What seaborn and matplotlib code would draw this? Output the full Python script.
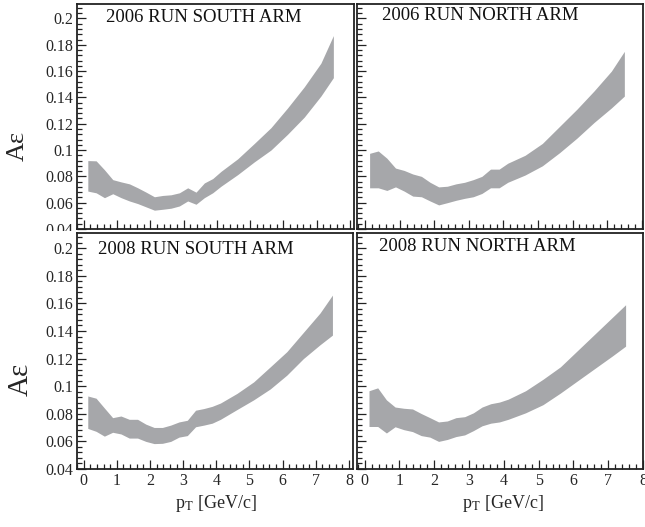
import matplotlib
matplotlib.use("Agg")
import matplotlib.pyplot as plt
import numpy as np
import seaborn as sns
from matplotlib.ticker import MultipleLocator, FixedLocator
from matplotlib.transforms import Bbox, TransformedBbox

# pT grid shared by all four acceptance*efficiency bands
pt = [0.125, 0.375, 0.625, 0.875, 1.125, 1.375, 1.625, 1.875, 2.125, 2.375,
      2.625, 2.875, 3.125, 3.375, 3.625, 3.875, 4.125, 4.625, 5.125, 5.625,
      6.125, 6.625, 7.125, 7.5]

# 2006 run, south arm
south06_hi = [0.0920, 0.0918, 0.0850, 0.0775, 0.0758, 0.0743, 0.0713, 0.0680, 0.0645, 0.0655,
              0.0660, 0.0675, 0.0713, 0.0680, 0.0750, 0.0783, 0.0838, 0.0933, 0.1050, 0.1170,
              0.1320, 0.1480, 0.1660, 0.1870]
south06_lo = [0.0688, 0.0675, 0.0638, 0.0668, 0.0638, 0.0613, 0.0593, 0.0568, 0.0543, 0.0550,
              0.0558, 0.0575, 0.0613, 0.0588, 0.0638, 0.0675, 0.0725, 0.0813, 0.0910, 0.1000,
              0.1120, 0.1250, 0.1410, 0.1550]

# 2006 run, north arm
north06_hi = [0.0975, 0.0993, 0.0938, 0.0863, 0.0845, 0.0818, 0.0800, 0.0755, 0.0720, 0.0725,
              0.0743, 0.0755, 0.0775, 0.0800, 0.0855, 0.0855, 0.0900, 0.0960, 0.1050, 0.1180,
              0.1310, 0.1450, 0.1600, 0.1750]
north06_lo = [0.0713, 0.0713, 0.0693, 0.0720, 0.0688, 0.0650, 0.0645, 0.0613, 0.0583, 0.0600,
              0.0618, 0.0633, 0.0645, 0.0670, 0.0713, 0.0713, 0.0755, 0.0810, 0.0880, 0.0980,
              0.1090, 0.1210, 0.1320, 0.1410]

# 2008 run, south arm
south08_hi = [0.0929, 0.0913, 0.0842, 0.0772, 0.0784, 0.0760, 0.0760, 0.0725, 0.0701, 0.0701,
              0.0718, 0.0741, 0.0753, 0.0826, 0.0838, 0.0854, 0.0878, 0.0948, 0.1031, 0.1140,
              0.1250, 0.1390, 0.1530, 0.1660]
south08_lo = [0.0694, 0.0673, 0.0638, 0.0666, 0.0654, 0.0624, 0.0624, 0.0600, 0.0584, 0.0586,
              0.0600, 0.0631, 0.0642, 0.0706, 0.0718, 0.0732, 0.0760, 0.0831, 0.0901, 0.0980,
              0.1080, 0.1200, 0.1300, 0.1370]

# 2008 run, north arm
north08_hi = [0.0967, 0.0988, 0.0901, 0.0849, 0.0840, 0.0835, 0.0802, 0.0772, 0.0741, 0.0748,
              0.0772, 0.0779, 0.0807, 0.0849, 0.0873, 0.0885, 0.0906, 0.0967, 0.1050, 0.1140,
              0.1260, 0.1380, 0.1500, 0.1590]
north08_lo = [0.0708, 0.0708, 0.0661, 0.0706, 0.0685, 0.0671, 0.0642, 0.0631, 0.0600, 0.0614,
              0.0635, 0.0647, 0.0678, 0.0713, 0.0732, 0.0741, 0.0760, 0.0807, 0.0866, 0.0950,
              0.1040, 0.1130, 0.1220, 0.1290]

titles = ["2006 RUN SOUTH ARM", "2006 RUN NORTH ARM",
          "2008 RUN SOUTH ARM", "2008 RUN NORTH ARM"]
y_ticks = [0.04, 0.06, 0.08, 0.1, 0.12, 0.14, 0.16, 0.18, 0.2]
y_ticklabels = ["0.04", "0.06", "0.08", "0.1", "0.12", "0.14", "0.16", "0.18", "0.2"]
x_ticks = [0, 1, 2, 3, 4, 5, 6, 7, 8]

sns.set_style("ticks")
plt.rcParams["font.family"] = ["Liberation Serif", "DejaVu Serif"]
plt.rcParams["mathtext.fontset"] = "stix"

W, H = 645, 527
fig = plt.figure(figsize=(W / 100, H / 100), dpi=100)


def px_axes(left, top, right, bottom):
    return fig.add_axes([left / W, 1 - bottom / H, (right - left) / W, (bottom - top) / H])


band_color = "#a6a7aa"
panels = [
    # (box in pixels, xlim, lo, hi, title pos)
    ((77, 4, 354, 229), (-0.2, 8.12), south06_lo, south06_hi, (0.105, 0.94)),
    ((357, 4, 643, 229), (-0.24, 8.04), north06_lo, north06_hi, (0.086, 0.947)),
    ((77, 233, 353, 469), (-0.2, 8.12), south08_lo, south08_hi, (0.077, 0.928)),
    ((357, 233, 643, 469), (-0.22, 8.0), north08_lo, north08_hi, (0.078, 0.942)),
]

axes = []
for i, (box, xlim, lo, hi, tpos) in enumerate(panels):
    ax = px_axes(*box)
    ax.fill_between(pt, lo, hi, color=band_color, linewidth=0)
    ax.set_xlim(*xlim)
    ax.set_ylim(0.04, 0.211)
    ax.yaxis.set_major_locator(FixedLocator(y_ticks))
    ax.yaxis.set_minor_locator(MultipleLocator(0.004))
    ax.xaxis.set_major_locator(FixedLocator(x_ticks))
    ax.xaxis.set_minor_locator(MultipleLocator(0.2))
    ax.tick_params(which="both", direction="in", top=False, right=False,
                   color="#222222", width=0.9, labelsize=11.5, pad=3)
    ax.tick_params(which="major", length=6.5)
    ax.tick_params(which="minor", length=3.4)
    for sp in ax.spines.values():
        sp.set_linewidth(1.3)
        sp.set_color("#222222")
    if i % 2 == 0:
        ax.set_yticklabels(y_ticklabels)
    else:
        ax.set_yticklabels([])
    if i < 2:
        ax.set_xticklabels([])
    ax.text(tpos[0], tpos[1], titles[i], transform=ax.transAxes,
            fontsize=13.5, ha="left", va="center", color="#111111")
    axes.append(ax)

# the top-left 0.04 label is cut by the lower panel in the reference
clip = TransformedBbox(Bbox([[0, 1 - 231 / H], [1, 1]]), fig.transFigure)
for lab in axes[0].get_yticklabels():
    lab.set_clip_box(clip)
    lab.set_clip_on(True)

fig.text(18 / W, 1 - 146 / H, "A\u03b5", rotation=90, fontsize=19,
         ha="center", va="center")
fig.text(21 / W, 1 - 379 / H, "A\u03b5", rotation=90, fontsize=21,
         ha="center", va="center")
fig.text(216 / W, 1 - 504 / H, r"p$_\mathrm{T}$ [GeV/c]", fontsize=13,
         ha="center", va="center")
fig.text(503 / W, 1 - 504 / H, r"p$_\mathrm{T}$ [GeV/c]", fontsize=13,
         ha="center", va="center")

fig.savefig("out.png", dpi=100)
